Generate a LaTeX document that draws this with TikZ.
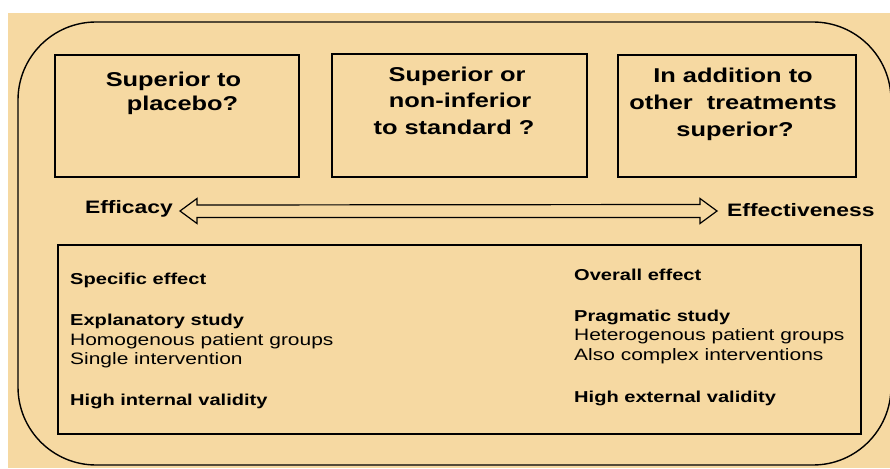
\documentclass[tikz,border=0pt]{standalone}
\usepackage{fontspec}
\setmainfont{Liberation Sans}[FakeStretch=1.27]
\definecolor{beige}{HTML}{F6D9A2}
\begin{document}
\begin{tikzpicture}[x=1pt,y=-1pt,
  box/.style={draw, line width=1.4pt, inner sep=0pt},
  ttl/.style={anchor=base, inner sep=0pt, font=\fontsize{20}{24}\selectfont\bfseries},
  lbl/.style={inner sep=0pt, font=\fontsize{18}{22}\selectfont\bfseries},
  itb/.style={anchor=base west, inner sep=0pt, font=\fontsize{15.8}{19}\selectfont\bfseries},
  itr/.style={anchor=base west, inner sep=0pt, font=\fontsize{16.5}{19}\selectfont},
  dblarrow/.style={draw, fill=beige, line width=1.2pt, line join=miter}]
\useasboundingbox (0,0) rectangle (890,468);
\fill[beige] (8,13) rectangle (890,468);
\draw[line width=1.4pt, rounded corners=78pt] (18,22) rectangle (891,465);
% top boxes
\node[box, minimum width=244pt, minimum height=122pt] (b1) at (177,116) {};
\node[box, minimum width=255pt, minimum height=123pt] (b2) at (459.5,115.5) {};
\node[box, minimum width=238pt, minimum height=122pt] (b3) at (737,116) {};
\node[ttl] (t11) at (173.5,87) {Superior to};
\node[ttl] (t12) at (182.5,110.5) {placebo?};
\node[ttl] (t21) at (457,82) {Superior or};
\node[ttl] (t22) at (460,107) {non-inferior};
\node[ttl] (t23) at (454,134) {to standard ?};
\node[ttl] (t31) at (733,83) {In addition to};
\node[ttl] (t32) at (733,109.5) {other\ \ treatments};
\node[ttl] (t33) at (735,136) {superior?};
% arrow
\node[lbl, anchor=base east] (eff) at (173,213.5) {Efficacy};
\node[lbl, anchor=base west] (efv) at (727,216) {Effectiveness};
\coordinate (tipL) at (180,211);
\coordinate (tipR) at (717,211);
\draw[dblarrow] (tipL) -- ++(17,-12.5) -- ++(0,6.5) -- (700,204.5) -- ++(0,-6)
  -- (tipR) -- ++(-17,12.5) -- ++(0,-6) -- (197,217.5) -- ++(0,6) -- cycle;
% bottom box
\node[box, minimum width=803pt, minimum height=189pt] (bb) at (459.5,339.5) {};
\node[itb] (l1) at (70,284) {Specific effect};
\node[itb] (l2) at (70,325) {Explanatory study};
\node[itr] (l3) at (70,345.5) {Homogenous patient groups};
\node[itr] (l4) at (70,364.5) {Single intervention};
\node[itb] (l5) at (70,405) {High internal validity};
\node[itb] (r1) at (574,280) {Overall effect};
\node[itb] (r2) at (574,321) {Pragmatic study};
\node[itr] (r3) at (574,340) {Heterogenous patient groups};
\node[itr] (r4) at (574,360) {Also complex interventions};
\node[itb] (r5) at (574,402) {High external validity};
\end{tikzpicture}
\end{document}
